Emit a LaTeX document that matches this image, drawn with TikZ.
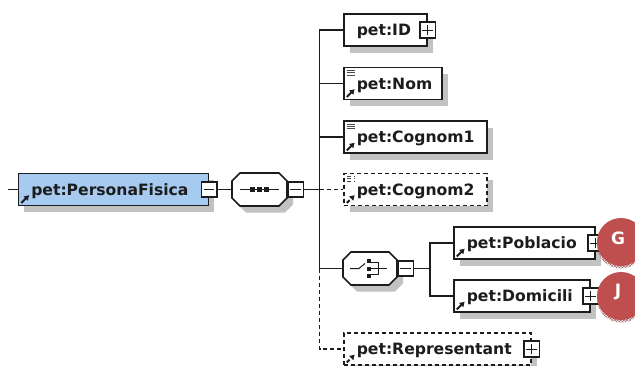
\documentclass[tikz,border=0pt]{standalone}
\usepackage{fontspec}
\setmainfont{DejaVu Sans}
\usetikzlibrary{calc}
\usetikzlibrary{arrows.meta}
\usetikzlibrary{shadows, patterns}
\definecolor{shadowgray}{HTML}{C2C2C2}
\definecolor{linedark}{HTML}{1C1C1C}
\definecolor{rootblue}{HTML}{A6CAF0}
\definecolor{markerred}{HTML}{BF4F4F}
\newcommand{\refmark}{
    \draw[line width=2pt, -{Latex[length=5pt,width=6.5pt]}] ([shift={(3pt,2.5pt)}]path picture bounding box.south west) -- ++(8pt,8pt);
}
\newcommand{\docmark}{
    \foreach \k in {3,5.3,7.6} {
        \draw[line width=0.9pt, linedark!80] ([shift={(3pt,-\k pt)}]path picture bounding box.north west) -- ++(8pt,0);
    }
}
\newcommand{\octapath}[1]{(8,0) -- (#1-8,0) -- (#1,8) -- (#1,25) -- (#1-8,33) -- (8,33) -- (0,25) -- (0,8) -- cycle}
\tikzset{
    baseshadow/.style={drop shadow={shadow xshift=6pt, shadow yshift=-6.5pt, fill=shadowgray, opacity=1}},
    elembox/.style={draw, fill=white, rectangle, baseshadow, anchor=west, minimum width=#1pt, text width=#1pt, minimum height=32pt, inner xsep=0pt, inner ysep=0pt, align=left,
        font=\fontsize{15.6}{17}\selectfont\bfseries, text height=12pt, text depth=1pt, execute at begin node=\hspace*{13pt}},
    reflink/.style={path picture={\refmark}},
    reflinkdoc/.style={path picture={\refmark\docmark}},
    optional/.style={dash pattern=on 4pt off 3pt},
    togglebox/.style={draw, fill=white, rectangle, minimum size=15.5pt, inner sep=0pt},
    minusbox/.style={togglebox, path picture={\draw[line width=1pt] ([xshift=2.5pt]path picture bounding box.west) -- ([xshift=-2.5pt]path picture bounding box.east);}},
    plusbox/.style={togglebox, path picture={
        \draw[line width=1pt] ([xshift=2.5pt]path picture bounding box.west) -- ([xshift=-2.5pt]path picture bounding box.east);
        \draw[line width=1pt] ([yshift=2.5pt]path picture bounding box.south) -- ([yshift=-2.5pt]path picture bounding box.north);}},
    octanode/.style={rectangle, anchor=west, minimum height=33pt, inner sep=0pt, outer sep=0pt},
    marker/.style={circle, fill=markerred, draw=none, minimum size=48pt, inner sep=0pt,
        general shadow={shadow yshift=-2.5pt, draw=none, pattern=crosshatch, pattern color=markerred!50!gray}},
    markertext/.style={text=white, font=\fontsize{17}{19}\selectfont\bfseries}
}
\begin{document}
\begin{tikzpicture}[x=1pt, y=-1pt, line width=1.6pt, color=linedark]
    \useasboundingbox (0,0) rectangle (635,365);

    \node[elembox=190, reflink, fill=rootblue] (root) at (17.5,189.5) {pet:PersonaFisica};
    \node[minusbox] (rootminus) at (root.east) {};
    \fill[shadowgray, shift={(238,179.5)}] \octapath{55};
    \draw[fill=white, shift={(232,173)}] \octapath{55};
    \node[octanode, minimum width=55pt, path picture={
        \draw[line width=1pt] ([xshift=8pt]path picture bounding box.west) -- ([xshift=-8pt]path picture bounding box.east);
        \foreach \d in {-7,0,7} {
            \fill[linedark] ([xshift=\d pt]path picture bounding box.center) +(-2.2pt,-2.2pt) rectangle +(2.2pt,2.2pt);
        }
    }] (seq) at (232,189.5) {};
    \node[minusbox, anchor=west] (seqminus) at (seq.east) {};

    \node[elembox=83] (id) at (343,30) {pet:ID};
    \node[plusbox] (idplus) at (id.east) {};
    \node[elembox=98, reflinkdoc] (nom) at (343,83.5) {pet:Nom};
    \node[elembox=143, reflinkdoc] (cognomu) at (343,137) {pet:Cognom1};
    \node[elembox=143, reflinkdoc, optional] (cognomd) at (343,189.5) {pet:Cognom2};

    \fill[shadowgray, shift={(349,258.5)}] \octapath{54};
    \draw[fill=white, shift={(343,252)}] \octapath{54};
    \node[octanode, minimum width=54pt, path picture={
        \coordinate (c) at (path picture bounding box.center);
        \draw[line width=1pt] ([xshift=-20pt]c) -- ([xshift=-11pt]c) -- ([shift={(-5pt,5pt)}]c);
        \foreach \d in {-7.5,0,7.5} {
            \fill[linedark] ([shift={(-1pt,\d pt)}]c) +(-2pt,-2pt) rectangle +(2pt,2pt);
        }
        \draw[line width=1pt] ([shift={(1pt,-6pt)}]c) -- ([shift={(8pt,-6pt)}]c) -- ([shift={(8pt,6pt)}]c) -- ([shift={(1pt,6pt)}]c);
        \draw[line width=1pt] ([xshift=1pt]c) -- ([xshift=17pt]c);
    }] (choice) at (343,268.5) {};
    \node[minusbox, anchor=west] (choiceminus) at (choice.east) {};

    \node[elembox=141, reflink] (poblacio) at (453,243) {pet:Poblacio};
    \node[plusbox] (poblacioplus) at (poblacio.east) {};
    \node[elembox=136, reflink] (domicili) at (453,296) {pet:Domicili};
    \node[plusbox] (domiciliplus) at (domicili.east) {};
    \node[elembox=187, reflink, optional] (repr) at (343,349) {pet:Representant};
    \node[plusbox] (reprplus) at (repr.east) {};

    \node[marker, label={[markertext, xshift=-3pt, yshift=4pt]center:G}] (markg) at (621,242) {};
    \node[marker, label={[markertext, xshift=-3pt, yshift=4pt]center:J}] (markj) at (621,296) {};

    \coordinate (stub) at (8,189.5);
    \coordinate (spine) at (319.5,189.5);
    \coordinate (fork) at (430,268.5);

    \draw (stub) -- (root.west);
    \draw (rootminus.east) -- (seq.west);
    \draw (seqminus.east) -- (spine);
    \draw (id.west) -| (spine);
    \draw (nom.west) -- (nom.west -| spine);
    \draw (cognomu.west) -- (cognomu.west -| spine);
    \draw[optional] (spine) -- (cognomd.west);
    \draw (choice.west) -| (spine);
    \draw (choiceminus.east) -- (fork);
    \draw (poblacio.west) -| (fork);
    \draw (domicili.west) -| (fork);
    \draw[optional] (choice.west -| spine) |- (repr.west);
\end{tikzpicture}
\end{document}
